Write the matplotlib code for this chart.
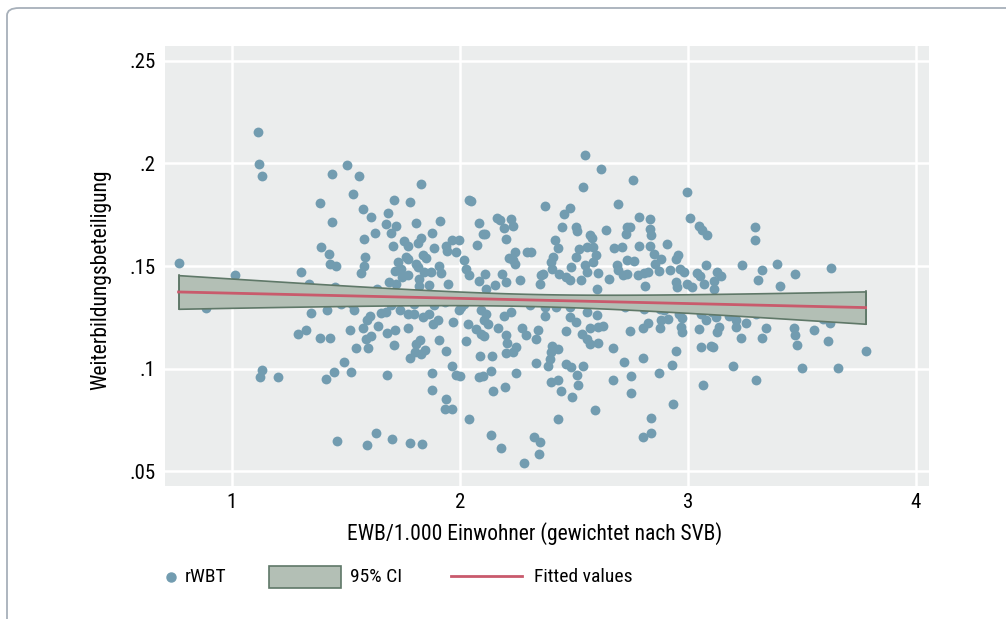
import numpy as np
import matplotlib
matplotlib.use("Agg")
from matplotlib import pyplot as plt
from matplotlib import font_manager
from matplotlib.lines import Line2D
from matplotlib.patches import Rectangle, FancyBboxPatch

# EWB/1.000 Einwohner und rWBT
ewb = [1.114, 1.119, 1.132, 1.442, 1.505, 1.559, 1.531, 1.389, 1.711, 1.575, 1.609, 1.684, 1.439, 1.677,
       1.719, 1.70, 1.627, 1.581, 1.707, 1.393, 1.428, 1.586, 1.43, 1.456, 1.581, 1.565, 1.73, 1.716,
       0.767, 1.015, 1.304, 1.34, 1.455, 1.639, 1.69, 1.72,
       0.887, 1.349, 1.42, 1.478, 1.536, 1.529, 1.605, 1.595, 1.655, 1.678, 1.697, 1.738, 1.292, 1.324,
       1.386, 1.429, 1.52, 1.578, 1.643, 1.68, 1.716, 1.587, 1.61, 1.712, 1.546, 1.597, 1.493, 1.133,
       1.123, 1.205, 1.449, 1.414, 1.524, 1.683, 1.463, 1.634, 1.593, 1.702,
       2.549, 2.618, 2.758, 2.542, 1.828, 1.784, 2.04, 2.051, 2.376, 2.483, 2.456, 2.694, 1.809, 1.913,
       2.085, 2.163, 2.178, 2.223, 2.232, 2.194, 2.449, 2.512, 2.514, 2.643, 2.733, 2.747, 2.73, 1.877,
       1.83, 1.819, 1.755, 1.775, 1.965, 1.996, 1.94, 1.943, 2.11, 2.103, 2.075, 2.203, 1.887, 1.985,
       2.02, 1.763, 1.772, 2.216, 2.233, 2.244, 2.244, 2.296, 2.314, 2.417, 2.43, 2.41, 2.40, 2.405,
       2.524, 2.556, 2.586, 2.571, 2.58, 2.512, 2.597, 2.586, 2.549, 2.556, 2.534, 2.487, 2.436, 2.468,
       2.483, 2.358, 2.366, 2.351, 2.678, 2.71, 2.689, 2.733, 2.765, 2.696, 2.718, 2.733, 2.655, 2.608,
       2.60, 1.91, 1.918, 1.947, 1.807, 1.819, 1.852, 1.837, 1.844, 1.874, 1.822, 1.749, 1.771, 1.741,
       1.866, 1.822, 2.028, 2.042, 2.113, 2.086, 2.155, 2.116, 2.186, 2.204, 2.266,
       1.771, 1.80, 1.837, 1.866, 1.881, 1.903, 1.80, 1.888, 1.937, 1.771, 1.91, 1.807, 1.825, 1.848,
       1.83, 1.781, 1.804, 1.972, 1.998, 2.006, 2.02, 1.94, 2.028, 2.035, 2.072, 2.094, 2.108, 2.094,
       2.116, 2.108, 2.123, 2.17, 2.192, 2.223, 2.204, 2.208, 2.201, 2.233, 2.248, 2.091, 2.142, 1.965,
       1.984, 2.003, 1.877, 1.878, 2.086, 2.101, 2.138, 2.248, 2.145, 2.20, 1.941, 1.937, 1.966, 2.04,
       1.781, 1.834, 2.135, 2.182, 2.324, 2.354, 2.348, 2.28, 2.429, 2.274, 2.292, 2.344, 2.333, 2.307,
       2.373, 2.373, 2.424, 2.483, 2.483, 2.508, 2.464, 2.336, 2.388, 2.395, 2.402, 2.405, 2.432, 2.468,
       2.49, 2.515, 2.542, 2.402, 2.429, 2.446, 2.493, 2.518, 2.537, 2.556, 2.571, 2.608, 2.571, 2.608,
       2.63, 2.559, 2.604, 2.671, 2.722, 2.747, 2.67, 2.753, 2.75, 2.592, 2.725,
       2.997, 2.787, 2.835, 3.011, 3.048, 3.063, 3.086, 3.293, 3.295, 2.835, 2.838, 2.909, 2.787, 2.835,
       2.85, 2.884, 2.957, 2.95, 2.857, 2.876, 2.921, 2.965, 2.982, 2.781, 2.806, 2.825, 3.078, 3.041,
       3.055, 3.129, 3.148, 3.239, 3.327, 3.393, 3.471, 3.627, 3.31, 3.405, 2.813, 2.95, 2.953, 2.997,
       3.019, 3.07, 3.115, 3.117,
       2.806, 2.879, 2.894, 2.96, 2.975, 3.056, 3.078, 3.107, 3.125, 3.181, 3.21, 3.21, 3.254, 3.301,
       2.825, 2.803, 2.884, 2.914, 2.877, 2.972, 2.975, 3.048, 3.136, 3.129, 3.233, 3.345, 3.327, 3.467,
       3.471, 3.478, 3.552, 3.595, 3.624, 3.617, 3.78, 2.948, 3.056, 3.10, 3.11, 2.802, 2.931, 3.20,
       3.502, 3.657, 2.875, 3.066, 3.30, 2.937, 2.837, 2.803, 2.841]

rwbt = [.2153, .1998, .1938, .195, .1992, .1937, .185, .1805, .182, .178, .174, .1756, .1715, .1705,
        .1697, .1663, .166, .163, .160, .1595, .156, .1546, .1508, .1502, .150, .1464, .1518, .1478,
        .1517, .1455, .1469, .1412, .140, .139, .1422, .1415,
        .1297, .127, .1284, .1316, .1284, .1316, .1259, .1238, .127, .1275, .1308, .1287, .1171, .1189,
        .1152, .1148, .1188, .1196, .1207, .1175, .1191, .1143, .1158, .1114, .1102, .1103, .1031, .0994,
        .0958, .0958, .0984, .095, .0986, .097, .0646, .0685, .0628, .066,
        .2039, .1972, .1918, .1884, .1899, .1814, .1824, .1817, .1792, .1785, .1754, .1803, .171, .1717,
        .1712, .1736, .1723, .1729, .1694, .1683, .169, .169, .1671, .1678, .1688, .169, .1658, .1661,
        .1637, .1612, .1622, .1596, .1625, .1625, .1598, .1572, .1658, .1655, .1604, .1632, .1586, .1568,
        .1531, .1544, .1534, .1541, .1528, .1568, .1512, .1568, .1568, .1629, .1588, .1544, .152, .1487,
        .1582, .1593, .1593, .165, .1639, .1544, .1552, .152, .1503, .1471, .143, .1495, .1459, .1446,
        .143, .1455, .1463, .1414, .1586, .1593, .1507, .1528, .1525, .1479, .1455, .1463, .1439, .1466,
        .139, .1502, .1466, .1411, .1512, .1495, .1541, .1552, .1471, .1471, .1439, .1446, .1455, .1487,
        .1406, .1401, .1487, .1455, .1463, .1427, .1406, .139, .1463, .1422, .143,
        .1268, .1268, .1251, .1268, .1219, .1235, .1316, .1308, .1324, .1199, .1141, .1121, .1141, .1093,
        .1072, .1053, .108, .123, .1284, .13, .1316, .1088, .1137, .1219, .1194, .117, .1157, .1284,
        .1268, .1238, .1219, .1199, .1259, .1275, .1162, .1124, .1075, .1083, .1105, .106, .1062, .1015,
        .097, .0966, .098, .0895, .0961, .0965, .0991, .098, .0893, .0913, .0851, .0804, .0804, .0755,
        .064, .0633, .0678, .0616, .067, .0644, .0584, .0543, .0755, .1199, .1166, .1189, .1145, .1308,
        .13, .1259, .13, .13, .1251, .123, .1186, .1028, .1015, .1048, .108, .111, .1097, .1023,
        .1007, .0971, .1015, .0934, .0945, .0893, .086, .0922, .117, .1145, .1121, .1126, .1199, .1202,
        .121, .1275, .1264, .11, .1035, .1183, .0945, .0966, .088, .08, .13,
        .186, .1739, .1727, .1734, .1694, .1678, .1653, .1688, .1629, .1679, .165, .1609, .1596, .1596,
        .156, .1534, .1552, .1536, .1508, .1476, .1479, .1484, .1471, .1455, .1466, .1471, .1507, .1466,
        .145, .1471, .145, .1507, .1482, .151, .1459, .1492, .1434, .1402, .1402, .1422, .1398, .1414,
        .1398, .1414, .1425, .139,
        .1292, .1292, .1284, .1268, .1248, .1268, .1238, .1275, .1254, .1259, .1238, .1205, .1222, .1268,
        .1222, .1197, .1235, .1243, .1197, .1202, .1178, .1192, .1205, .1181, .1149, .1196, .1149, .1199,
        .1166, .1114, .1188, .1243, .1224, .1137, .1087, .1088, .1105, .1113, .1105, .1053, .1017, .1014,
        .1005, .1004, .0978, .0922, .0945, .0828, .0758, .067, .0688]

x_ticks = [1, 2, 3, 4]
y_ticks = [.05, .1, .15, .2, .25]
y_ticklabels = [".05", ".1", ".15", ".2", ".25"]

# Schrift: schmale Sans wenn vorhanden
vorhanden = {f.name for f in font_manager.fontManager.ttflist}
schrift = "DejaVu Sans"
for name in ["Liberation Sans Narrow", "DejaVu Sans Condensed", "Roboto Condensed", "Roboto"]:
    if name in vorhanden:
        schrift = name
        break
plt.rcParams["font.family"] = [schrift, "DejaVu Sans"]

punkt_farbe = "#729cb0"
ci_farbe = "#b3bfb5"
ci_rand = "#5f7868"
fit_farbe = "#c95a6c"

x = np.array(ewb)
y = np.array(rwbt)

# lineare Regression + 95% KI
b, a = np.polyfit(x, y, 1)
n = len(x)
res = y - (a + b * x)
s = np.sqrt(np.sum(res ** 2) / (n - 2))
sxx = np.sum((x - x.mean()) ** 2)
xg = np.linspace(x.min(), x.max(), 100)
yg = a + b * xg
se = s * np.sqrt(1 / n + (xg - x.mean()) ** 2 / sxx)
t = 1.966

fig = plt.figure(figsize=(10.06, 6.19), dpi=100)
ax = fig.add_axes([165 / 1006, 1 - 486 / 619, 764 / 1006, 440.3 / 619])
ax.set_facecolor("#ebeded")
for sp in ax.spines.values():
    sp.set_visible(False)

ax.scatter(x, y, s=50, color=punkt_farbe, linewidths=0, zorder=3)
ax.fill_between(xg, yg - t * se, yg + t * se, facecolor=ci_farbe, edgecolor=ci_rand,
                linewidth=1.2, zorder=4)
ax.plot([xg[0], xg[0]], [yg[0] - t * se[0], yg[0] + t * se[0]], color=ci_rand, lw=1.2, zorder=4)
ax.plot([xg[-1], xg[-1]], [yg[-1] - t * se[-1], yg[-1] + t * se[-1]], color=ci_rand, lw=1.2, zorder=4)
ax.plot(xg, yg, color=fit_farbe, lw=2, zorder=5)

ax.set_xlim(0.7075, 4.058)
ax.set_ylim(0.0429, 0.2573)
ax.set_xticks(x_ticks)
ax.set_xticklabels([str(v) for v in x_ticks])
ax.set_yticks(y_ticks)
ax.set_yticklabels(y_ticklabels)
ax.tick_params(length=0, labelsize=15, pad=7)
ax.tick_params(axis="x", pad=5)
ax.grid(True, color="white", linewidth=1.8, zorder=1)
ax.set_axisbelow(True)

ax.set_xlabel("EWB/1.000 Einwohner (gewichtet nach SVB)", fontsize=15.5)
ax.xaxis.set_label_coords(0.484, -0.082)
ax.set_ylabel("Weiterbildungsbeteiligung", fontsize=15.5)
ax.yaxis.set_label_coords(-0.07, 0.468)

# Legende unten
ly = 1 - 577 / 619
fig.add_artist(Line2D([171 / 1006], [ly], marker="o", markersize=6.5, color=punkt_farbe,
                      linestyle="none", transform=fig.transFigure))
fig.text(185 / 1006, ly, "rWBT", fontsize=14, va="center")
fig.add_artist(Rectangle((269 / 1006, 1 - 588 / 619), 72 / 1006, 22 / 619, facecolor=ci_farbe,
                         edgecolor=ci_rand, linewidth=1.2, transform=fig.transFigure))
fig.text(350 / 1006, ly, "95% CI", fontsize=14, va="center")
fig.add_artist(Line2D([451 / 1006, 522 / 1006], [1 - 576 / 619] * 2, color=fit_farbe, lw=2,
                      transform=fig.transFigure))
fig.text(534 / 1006, ly, "Fitted values", fontsize=14, va="center")

# Rahmen oben links
fig.add_artist(FancyBboxPatch((7 / 1006, -0.05), 1.2, 1 - 8 / 619 + 0.05,
                              boxstyle="round,pad=0,rounding_size=0.012", facecolor="none",
                              edgecolor="#a7b0ba", linewidth=1.3, transform=fig.transFigure))

fig.savefig("out.png", dpi=100, facecolor="white")
